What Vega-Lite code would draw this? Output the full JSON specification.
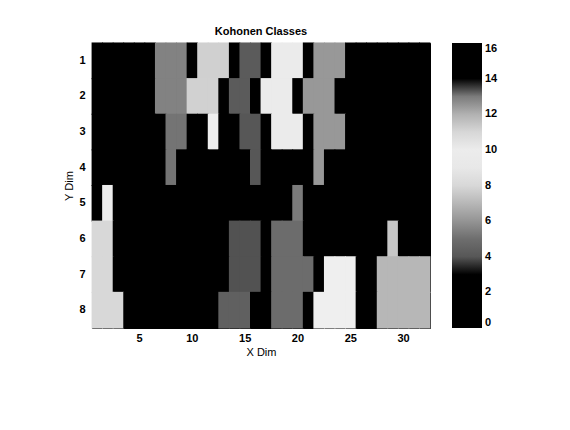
{
  "$schema": "https://vega.github.io/schema/vega-lite/v6.json",
  "autosize": {"type": "none"},
  "padding": {"left": 92, "top": 43, "right": 140, "bottom": 102},
  "width": 338,
  "height": 285,
  "background": "white",
  "title": {"text": "Kohonen Classes", "fontSize": 11, "fontWeight": "bold", "font": "Liberation Sans", "offset": 5, "color": "black"},
  "config": {
    "view": {"stroke": "black", "fill": "black"},
    "axis": {"labelFont": "Liberation Sans", "titleFont": "Liberation Sans", "labelFontSize": 11, "titleFontSize": 11, "labelFontWeight": "bold", "titleFontWeight": "normal", "labelColor": "black", "titleColor": "black", "domainColor": "black", "ticks": false, "grid": false}
  },
  "data": {"values": [
{"x":1,"y":1,"v":1},{"x":2,"y":1,"v":1},{"x":3,"y":1,"v":1},{"x":4,"y":1,"v":1},{"x":5,"y":1,"v":1},{"x":6,"y":1,"v":1},{"x":7,"y":1,"v":12.9},{"x":8,"y":1,"v":12.9},{"x":9,"y":1,"v":12.9},{"x":10,"y":1,"v":1},{"x":11,"y":1,"v":11.2},{"x":12,"y":1,"v":11.2},{"x":13,"y":1,"v":11.2},{"x":14,"y":1,"v":1},{"x":15,"y":1,"v":4.2},{"x":16,"y":1,"v":4.2},{"x":17,"y":1,"v":1},{"x":18,"y":1,"v":9.2},{"x":19,"y":1,"v":9.2},{"x":20,"y":1,"v":9.2},{"x":21,"y":1,"v":1},{"x":22,"y":1,"v":12.5},{"x":23,"y":1,"v":12.5},{"x":24,"y":1,"v":12.5},{"x":25,"y":1,"v":1},{"x":26,"y":1,"v":1},{"x":27,"y":1,"v":1},{"x":28,"y":1,"v":1},{"x":29,"y":1,"v":1},{"x":30,"y":1,"v":1},{"x":31,"y":1,"v":1},{"x":32,"y":1,"v":1},
{"x":1,"y":2,"v":1},{"x":2,"y":2,"v":1},{"x":3,"y":2,"v":1},{"x":4,"y":2,"v":1},{"x":5,"y":2,"v":1},{"x":6,"y":2,"v":1},{"x":7,"y":2,"v":12.9},{"x":8,"y":2,"v":12.9},{"x":9,"y":2,"v":12.9},{"x":10,"y":2,"v":7.8},{"x":11,"y":2,"v":7.8},{"x":12,"y":2,"v":7.8},{"x":13,"y":2,"v":1},{"x":14,"y":2,"v":4.2},{"x":15,"y":2,"v":4.2},{"x":16,"y":2,"v":1},{"x":17,"y":2,"v":9.2},{"x":18,"y":2,"v":9.2},{"x":19,"y":2,"v":9.2},{"x":20,"y":2,"v":1},{"x":21,"y":2,"v":12.5},{"x":22,"y":2,"v":12.5},{"x":23,"y":2,"v":12.5},{"x":24,"y":2,"v":1},{"x":25,"y":2,"v":1},{"x":26,"y":2,"v":1},{"x":27,"y":2,"v":1},{"x":28,"y":2,"v":1},{"x":29,"y":2,"v":1},{"x":30,"y":2,"v":1},{"x":31,"y":2,"v":1},{"x":32,"y":2,"v":1},
{"x":1,"y":3,"v":1},{"x":2,"y":3,"v":1},{"x":3,"y":3,"v":1},{"x":4,"y":3,"v":1},{"x":5,"y":3,"v":1},{"x":6,"y":3,"v":1},{"x":7,"y":3,"v":1},{"x":8,"y":3,"v":13.1},{"x":9,"y":3,"v":13.1},{"x":10,"y":3,"v":1},{"x":11,"y":3,"v":1},{"x":12,"y":3,"v":9.8},{"x":13,"y":3,"v":1},{"x":14,"y":3,"v":1},{"x":15,"y":3,"v":4.0},{"x":16,"y":3,"v":4.0},{"x":17,"y":3,"v":1},{"x":18,"y":3,"v":9.2},{"x":19,"y":3,"v":9.2},{"x":20,"y":3,"v":9.2},{"x":21,"y":3,"v":1},{"x":22,"y":3,"v":12.5},{"x":23,"y":3,"v":12.5},{"x":24,"y":3,"v":12.5},{"x":25,"y":3,"v":1},{"x":26,"y":3,"v":1},{"x":27,"y":3,"v":1},{"x":28,"y":3,"v":1},{"x":29,"y":3,"v":1},{"x":30,"y":3,"v":1},{"x":31,"y":3,"v":1},{"x":32,"y":3,"v":1},
{"x":1,"y":4,"v":1},{"x":2,"y":4,"v":1},{"x":3,"y":4,"v":1},{"x":4,"y":4,"v":1},{"x":5,"y":4,"v":1},{"x":6,"y":4,"v":1},{"x":7,"y":4,"v":1},{"x":8,"y":4,"v":13.1},{"x":9,"y":4,"v":1},{"x":10,"y":4,"v":1},{"x":11,"y":4,"v":1},{"x":12,"y":4,"v":1},{"x":13,"y":4,"v":1},{"x":14,"y":4,"v":1},{"x":15,"y":4,"v":1},{"x":16,"y":4,"v":4.0},{"x":17,"y":4,"v":1},{"x":18,"y":4,"v":1},{"x":19,"y":4,"v":1},{"x":20,"y":4,"v":1},{"x":21,"y":4,"v":1},{"x":22,"y":4,"v":12.5},{"x":23,"y":4,"v":1},{"x":24,"y":4,"v":1},{"x":25,"y":4,"v":1},{"x":26,"y":4,"v":1},{"x":27,"y":4,"v":1},{"x":28,"y":4,"v":1},{"x":29,"y":4,"v":1},{"x":30,"y":4,"v":1},{"x":31,"y":4,"v":1},{"x":32,"y":4,"v":1},
{"x":1,"y":5,"v":1},{"x":2,"y":5,"v":9.3},{"x":3,"y":5,"v":1},{"x":4,"y":5,"v":1},{"x":5,"y":5,"v":1},{"x":6,"y":5,"v":1},{"x":7,"y":5,"v":1},{"x":8,"y":5,"v":1},{"x":9,"y":5,"v":1},{"x":10,"y":5,"v":1},{"x":11,"y":5,"v":1},{"x":12,"y":5,"v":1},{"x":13,"y":5,"v":1},{"x":14,"y":5,"v":1},{"x":15,"y":5,"v":1},{"x":16,"y":5,"v":1},{"x":17,"y":5,"v":1},{"x":18,"y":5,"v":1},{"x":19,"y":5,"v":1},{"x":20,"y":5,"v":13.0},{"x":21,"y":5,"v":1},{"x":22,"y":5,"v":1},{"x":23,"y":5,"v":1},{"x":24,"y":5,"v":1},{"x":25,"y":5,"v":1},{"x":26,"y":5,"v":1},{"x":27,"y":5,"v":1},{"x":28,"y":5,"v":1},{"x":29,"y":5,"v":1},{"x":30,"y":5,"v":1},{"x":31,"y":5,"v":1},{"x":32,"y":5,"v":1},
{"x":1,"y":6,"v":8.0},{"x":2,"y":6,"v":8.0},{"x":3,"y":6,"v":1},{"x":4,"y":6,"v":1},{"x":5,"y":6,"v":1},{"x":6,"y":6,"v":1},{"x":7,"y":6,"v":1},{"x":8,"y":6,"v":1},{"x":9,"y":6,"v":1},{"x":10,"y":6,"v":1},{"x":11,"y":6,"v":1},{"x":12,"y":6,"v":1},{"x":13,"y":6,"v":1},{"x":14,"y":6,"v":3.8},{"x":15,"y":6,"v":3.8},{"x":16,"y":6,"v":3.8},{"x":17,"y":6,"v":1},{"x":18,"y":6,"v":13.2},{"x":19,"y":6,"v":13.2},{"x":20,"y":6,"v":13.2},{"x":21,"y":6,"v":1},{"x":22,"y":6,"v":1},{"x":23,"y":6,"v":1},{"x":24,"y":6,"v":1},{"x":25,"y":6,"v":1},{"x":26,"y":6,"v":1},{"x":27,"y":6,"v":1},{"x":28,"y":6,"v":1},{"x":29,"y":6,"v":7.5},{"x":30,"y":6,"v":1},{"x":31,"y":6,"v":1},{"x":32,"y":6,"v":1},
{"x":1,"y":7,"v":8.0},{"x":2,"y":7,"v":8.0},{"x":3,"y":7,"v":1},{"x":4,"y":7,"v":1},{"x":5,"y":7,"v":1},{"x":6,"y":7,"v":1},{"x":7,"y":7,"v":1},{"x":8,"y":7,"v":1},{"x":9,"y":7,"v":1},{"x":10,"y":7,"v":1},{"x":11,"y":7,"v":1},{"x":12,"y":7,"v":1},{"x":13,"y":7,"v":1},{"x":14,"y":7,"v":3.8},{"x":15,"y":7,"v":3.8},{"x":16,"y":7,"v":3.8},{"x":17,"y":7,"v":1},{"x":18,"y":7,"v":13.2},{"x":19,"y":7,"v":13.2},{"x":20,"y":7,"v":13.2},{"x":21,"y":7,"v":13.2},{"x":22,"y":7,"v":1},{"x":23,"y":7,"v":9.6},{"x":24,"y":7,"v":9.6},{"x":25,"y":7,"v":9.6},{"x":26,"y":7,"v":1},{"x":27,"y":7,"v":1},{"x":28,"y":7,"v":7.0},{"x":29,"y":7,"v":7.0},{"x":30,"y":7,"v":7.0},{"x":31,"y":7,"v":7.0},{"x":32,"y":7,"v":7.0},
{"x":1,"y":8,"v":8.0},{"x":2,"y":8,"v":8.0},{"x":3,"y":8,"v":8.0},{"x":4,"y":8,"v":1},{"x":5,"y":8,"v":1},{"x":6,"y":8,"v":1},{"x":7,"y":8,"v":1},{"x":8,"y":8,"v":1},{"x":9,"y":8,"v":1},{"x":10,"y":8,"v":1},{"x":11,"y":8,"v":1},{"x":12,"y":8,"v":1},{"x":13,"y":8,"v":4.4},{"x":14,"y":8,"v":4.4},{"x":15,"y":8,"v":4.4},{"x":16,"y":8,"v":1},{"x":17,"y":8,"v":1},{"x":18,"y":8,"v":13.2},{"x":19,"y":8,"v":13.2},{"x":20,"y":8,"v":13.2},{"x":21,"y":8,"v":1},{"x":22,"y":8,"v":9.6},{"x":23,"y":8,"v":9.6},{"x":24,"y":8,"v":9.6},{"x":25,"y":8,"v":9.6},{"x":26,"y":8,"v":1},{"x":27,"y":8,"v":1},{"x":28,"y":8,"v":7.0},{"x":29,"y":8,"v":7.0},{"x":30,"y":8,"v":7.0},{"x":31,"y":8,"v":7.0},{"x":32,"y":8,"v":7.0}
  ]},
  "mark": {"type": "rect", "strokeWidth": 0, "width": {"band": 1.08}, "height": {"band": 1.03}},
  "encoding": {
    "x": {"field": "x", "type": "ordinal", "title": "X Dim",
      "scale": {"domain": [1,2,3,4,5,6,7,8,9,10,11,12,13,14,15,16,17,18,19,20,21,22,23,24,25,26,27,28,29,30,31,32], "paddingInner": 0, "paddingOuter": 0},
      "axis": {"values": [5,10,15,20,25,30], "labelAngle": 0, "labelPadding": 4, "titlePadding": 3, "domain": false}},
    "y": {"field": "y", "type": "ordinal", "title": "Y Dim",
      "scale": {"domain": [1,2,3,4,5,6,7,8], "paddingInner": 0, "paddingOuter": 0},
      "axis": {"labelPadding": 7, "titlePadding": 4, "domain": false}},
    "color": {"field": "v", "type": "quantitative",
      "scale": {"domain": [0, 3.6, 3.7, 5, 6.3, 8, 9.5, 10.5, 11.7, 12.8, 13.6, 13.7, 16],
                "range": ["#000000", "#000000", "#505050", "#6e6e6e", "#a0a0a0", "#d8d8d8", "#f0f0f0", "#e8e8e8", "#c0c0c0", "#8a8a8a", "#505050", "#000000", "#000000"],
                "zero": false, "nice": false},
      "legend": {"orient": "none", "legendX": 360, "legendY": 0, "direction": "vertical", "title": null,
        "gradientLength": 285, "gradientThickness": 30, "gradientStrokeWidth": 0,
        "values": [0,2,4,6,8,10,12,14,16], "labelOverlap": false, "labelOffset": 3,
        "labelFont": "Liberation Sans", "labelFontSize": 11, "labelFontWeight": "bold", "labelColor": "black"}}
  }
}
